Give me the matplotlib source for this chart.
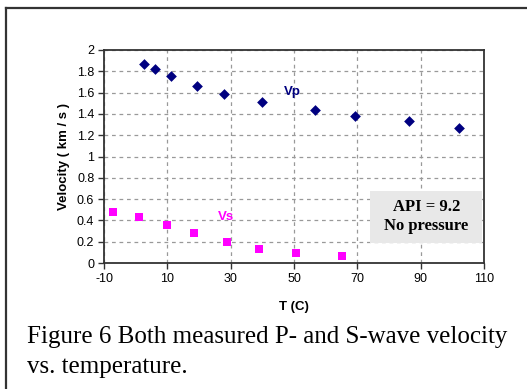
import numpy as np
import matplotlib.pyplot as plt
from matplotlib.lines import Line2D
from matplotlib.patches import Rectangle

t_vp = [2.6, 6.2, 11.0, 19.4, 27.9, 39.8, 56.6, 69.2, 86.3, 102.0]
vp = [1.87, 1.82, 1.76, 1.66, 1.59, 1.51, 1.44, 1.38, 1.33, 1.27]
t_vs = [-7.2, 1.2, 10.0, 18.4, 28.8, 38.8, 50.5, 65.3]
vs = [0.476, 0.43, 0.357, 0.285, 0.20, 0.128, 0.094, 0.066]

x_ticks = [-10, 10, 30, 50, 70, 90, 110]
y_ticks = [0, 0.2, 0.4, 0.6, 0.8, 1, 1.2, 1.4, 1.6, 1.8, 2]

sans = ['Liberation Sans', 'DejaVu Sans']
serif = ['Liberation Serif', 'DejaVu Serif']


def main():
    fig = plt.figure(figsize=(5.27, 3.89), dpi=100)
    ax = fig.add_axes([104/527, 1 - 263/389, 380/527, 213/389])

    ax.scatter(t_vp, vp, marker='D', s=30, color='#000080', linewidths=0, zorder=3)
    ax.scatter(t_vs, vs, marker='s', s=28, color='#ff00ff', linewidths=0, zorder=3)

    ax.set_xlim(-10, 110)
    ax.set_ylim(0, 2)
    ax.set_xticks(x_ticks)
    ax.set_yticks(y_ticks)
    ax.set_xticklabels(['%g' % v for v in x_ticks], family=sans, fontsize=9)
    ax.set_yticklabels(['%g' % v for v in y_ticks], family=sans, fontsize=9)
    ax.tick_params(direction='out', length=4, width=1, color='#333333', pad=3)
    ax.grid(True, linestyle=(0, (3, 3)), color='#999999', linewidth=0.9)
    for s in ax.spines.values():
        s.set_color('#333333')
        s.set_linewidth(1.3)

    ax.set_xlabel('T (C)', family=sans, fontsize=9.5, fontweight='bold', labelpad=12)
    ax.set_ylabel('Velocity ( km / s )', family=sans, fontsize=9.5, fontweight='bold', labelpad=5)

    ax.text(49.5, 1.61, 'Vp', family=sans, fontsize=9.5, fontweight='bold',
            color='#000080', ha='center', va='center')
    ax.text(28.6, 0.43, 'Vs', family=sans, fontsize=9.5, fontweight='bold',
            color='#ff00ff', ha='center', va='center')

    # annotation box
    ax.add_patch(Rectangle((74.1, 0.188), 35.3, 0.488, facecolor='#e8e8e8',
                           edgecolor='none', zorder=4))
    ax.text(91.8, 0.432, 'API = 9.2\nNo pressure', family=serif, fontsize=12,
            fontweight='bold', ha='center', va='center', linespacing=1.25, zorder=5)

    # caption
    fig.text(27/527, 1 - 343/389, 'Figure 6 Both measured P- and S-wave velocity',
             family=serif, fontsize=18, va='baseline')
    fig.text(27/527, 1 - 373/389, 'vs. temperature.',
             family=serif, fontsize=18, va='baseline')

    # outer frame
    fig.add_artist(Line2D([6/527, 1], [1 - 8/389, 1 - 8/389], color='#333333', linewidth=1.6))
    fig.add_artist(Line2D([6/527, 6/527], [0, 1 - 8/389], color='#333333', linewidth=1.6))

    fig.savefig('out.png', dpi=100)


main()
